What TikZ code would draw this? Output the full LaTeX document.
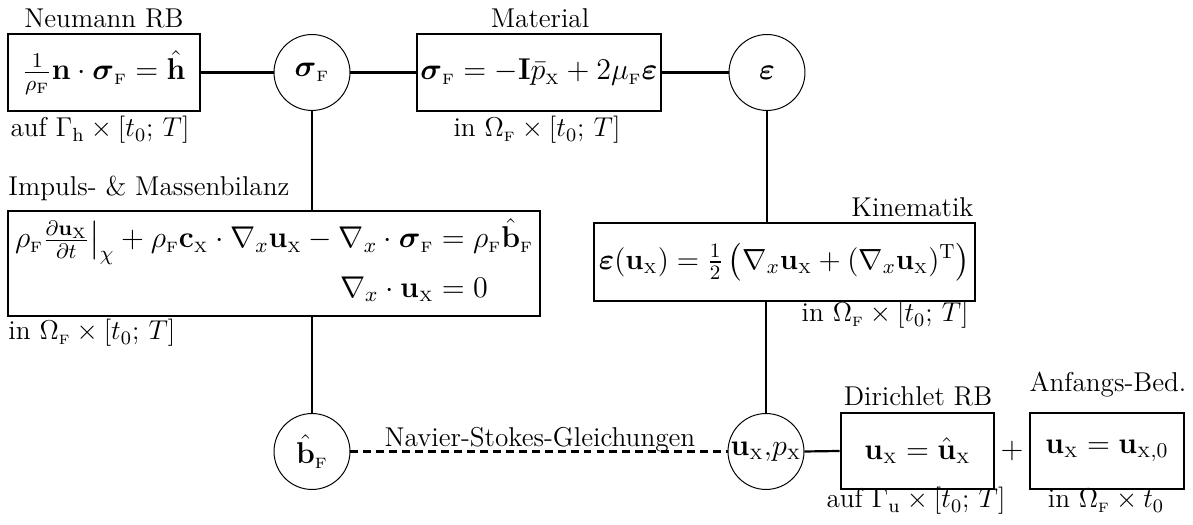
\RequirePackage{fix-cm}
\documentclass[tikz,border=0pt]{standalone}
\usepackage{amsmath}
\newcommand\Fs{{\scriptscriptstyle\mathrm{F}}}
\newcommand\Xs{{\scriptscriptstyle\mathrm{X}}}
\newcommand\eqf{\fontsize{13.7}{16.4}\selectfont}
\begin{document}
\begin{tikzpicture}[x=0.4556pt,y=-0.4556pt,
  font=\fontsize{12.4}{14.9}\selectfont,
  eqbox/.style={draw, line width=1.3pt, rectangle, inner sep=1pt, font=\eqf},
  var/.style={draw, circle, line width=0.45pt, minimum size=34.6pt, inner sep=0pt, font=\eqf},
  conn/.style={line width=1pt},
  lbl/.style={anchor=base, inner sep=0pt},
  lbll/.style={anchor=base west, inner sep=0pt},
  lblr/.style={anchor=base east, inner sep=0pt}]
\useasboundingbox (0,0) rectangle (1193,525);

% equation boxes
\node[eqbox, minimum width=87.5pt, minimum height=35.1pt] (neu) at (104,72.5)
  {$\frac{1}{\rho_{\mathrm F}}\mathbf n\cdot\boldsymbol\sigma_\Fs=\hat{\mathbf h}$};
\node[eqbox, minimum width=111.2pt, minimum height=35.1pt] (mat) at (539,72.5)
  {$\boldsymbol\sigma_\Fs=-\mathbf I\bar p_\Xs+2\mu_\Fs\boldsymbol\varepsilon$};
\node[eqbox, minimum width=242.4pt, minimum height=47.8pt] (imp) at (274,263.5)
  {$\begin{array}{@{}r@{}l@{}}
   \rho_\Fs\frac{\partial\mathbf u_\Xs}{\partial t}\bigr|_{\chi}+\rho_\Fs\mathbf c_\Xs\cdot\nabla_x\mathbf u_\Xs-\nabla_x\cdot\boldsymbol\sigma_\Fs & {}=\rho_\Fs\hat{\mathbf b}_\Fs\\[6pt]
   \nabla_x\cdot\mathbf u_\Xs & {}=0
   \end{array}$};
\node[eqbox, minimum width=173.6pt, minimum height=35.5pt, font=\fontsize{13.3}{16}\selectfont] (kin) at (784.5,262)
  {$\boldsymbol\varepsilon(\mathbf u_\Xs)=\frac12\,\bigl(\nabla_x\mathbf u_\Xs+(\nabla_x\mathbf u_\Xs)^{\mathrm T}\bigr)$};
\node[eqbox, minimum width=69.7pt, minimum height=34.6pt] (dir) at (917.5,451)
  {$\mathbf u_\Xs=\hat{\mathbf u}_\Xs$};
\node[eqbox, minimum width=70.2pt, minimum height=34.6pt] (anf) at (1107,451)
  {$\mathbf u_\Xs=\mathbf u_{\Xs,0}$};
\node[inner sep=0pt, font=\eqf] (plus) at (1012,451) {$+$};

% variable circles
\node[var] (sig) at (312,72.5) {$\boldsymbol\sigma_\Fs$};
\node[var] (eps) at (767,72.5) {$\boldsymbol\varepsilon$};
\node[var] (bF) at (312,451.5) {$\hat{\mathbf b}_\Fs$};
\node[var] (up) at (766,451.5) {$\mathbf u_\Xs{,}p_\Xs$};

% labels
\node[lbl] (lneu) at (104,28) {Neumann RB};
\node[lbl] (lneub) at (100,137) {auf $\Gamma_{\mathrm h}\times[t_0;\,T]$};
\node[lbl] (lmat) at (540,28) {Material};
\node[lbl] (lmatb) at (537,137) {in $\Omega_\Fs\times[t_0;\,T]$};
\node[lbll] (limp) at (8,196) {Impuls- \& Massenbilanz};
\node[lbll] (limpb) at (8,340) {in $\Omega_\Fs\times[t_0;\,T]$};
\node[lblr] (lkin) at (974,217) {Kinematik};
\node[lblr] (lkinb) at (969,322) {in $\Omega_\Fs\times[t_0;\,T]$};
\node[lbl] (ldir) at (918,406) {Dirichlet RB};
\node[lbl] (ldirb) at (916,508) {auf $\Gamma_{\mathrm u}\times[t_0;\,T]$};
\node[lbl] (lanf) at (1108,392) {Anfangs-Bed.};
\node[lbl] (lanfb) at (1106,508) {in $\Omega_\Fs\times t_0$};

% connectors
\draw[conn] (neu.east) -- (sig.west);
\draw[conn] (sig.east) -- (mat.west);
\draw[conn] (mat.east) -- (eps.west);
\draw[conn] (sig.south) -- (sig.south |- imp.north);
\draw[conn] (bF.north |- imp.south) -- (bF.north);
\draw[conn] (eps.south) -- (eps.south |- kin.north);
\draw[conn] (up.north |- kin.south) -- (up.north);
\draw[conn] (up.east) -- (dir.west);
\draw[conn, dash pattern=on 3.6pt off 2.3pt] (bF.east) -- (up.west);
\node[lbl] (lns) at (540,447) {Navier-Stokes-Gleichungen};
\end{tikzpicture}
\end{document}
